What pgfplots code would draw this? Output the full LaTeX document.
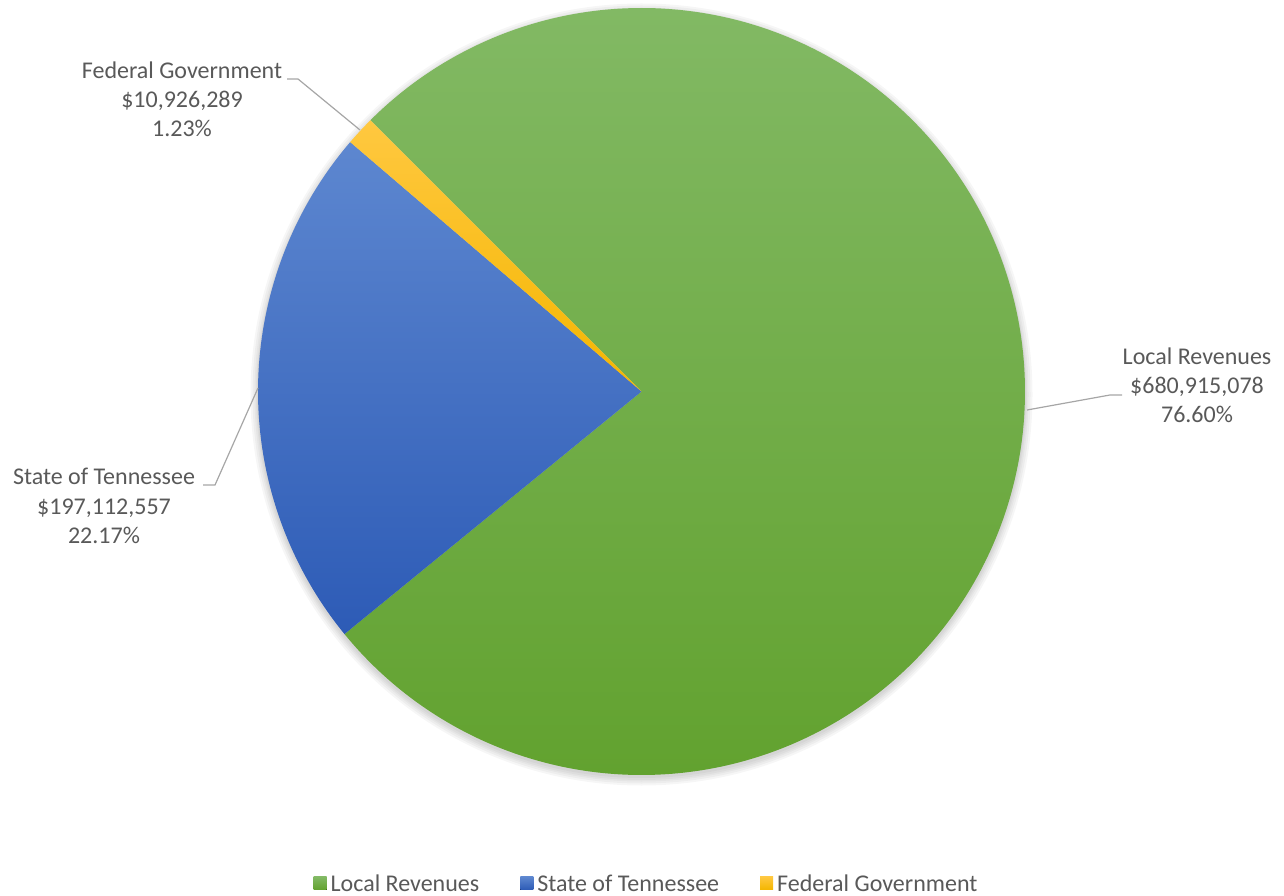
\documentclass[border=0pt]{standalone}
\usepackage{fontspec}
\setmainfont{Carlito}
\usepackage{pgfplots}
\pgfplotsset{compat=1.18}
\definecolor{txt}{HTML}{595959}
\definecolor{lead}{HTML}{A6A6A6}
\definecolor{gTop}{HTML}{82B964}
\definecolor{gBot}{HTML}{62A22F}
\definecolor{bTop}{HTML}{5D87D0}
\definecolor{bBot}{HTML}{2D5BB6}
\definecolor{yTop}{HTML}{FFC840}
\definecolor{yBot}{HTML}{F4B600}
\newcommand\lab{\fontsize{24}{29}\selectfont}
\begin{document}
\begin{tikzpicture}
\def\cx{641.5}\def\cy{503.5}\def\R{383.5}
% shares in percent (Local Revenues, State of Tennessee, Federal Government)
\def\pA{76.60}\def\pB{22.17}\def\pC{1.23}
\pgfmathsetmacro\aO{135}
\pgfmathsetmacro\aA{135-3.6*\pA}
\pgfmathsetmacro\aB{135-3.6*(\pA+\pB)}
\pgfmathsetmacro\aC{135-3.6*(\pA+\pB+\pC)}
\begin{axis}[x=1pt,y=1pt,xmin=0,xmax=1284,ymin=0,ymax=895,
  hide axis, clip=false, no markers,
  legend columns=3,
  legend image code/.code={\fill[#1] (0pt,-6pt) rectangle (13pt,7pt);},
  legend style={at={(axis cs:646,-1)}, anchor=south, draw=none, fill=none,
    font=\lab, text=txt, nodes={inner xsep=1pt, inner ysep=1pt},
    /tikz/every odd column/.append style={column sep=3pt},
    /tikz/every even column/.append style={column sep=40pt}},
]
\coordinate (BL) at (axis cs:0,0);
\coordinate (TR) at (axis cs:1284,895);
% soft shadow
\fill[black,opacity=0.035] (axis cs:\cx,\cy-3) circle[radius=391pt];
\fill[black,opacity=0.035] (axis cs:\cx,\cy-3) circle[radius=389pt];
\fill[black,opacity=0.035] (axis cs:\cx,\cy-3) circle[radius=387pt];
\fill[black,opacity=0.035] (axis cs:\cx,\cy-3) circle[radius=385.5pt];
\fill[black,opacity=0.035] (axis cs:\cx,\cy-2) circle[radius=384.5pt];

\addplot[draw=none, top color=gTop, bottom color=gBot, domain=\aA:\aO, samples=300, variable=\t]
  ({\cx+\R*cos(\t)},{\cy+\R*sin(\t)}) -- (axis cs:\cx,\cy) -- cycle;
\addlegendentry{Local Revenues}
\addplot[draw=none, top color=bTop, bottom color=bBot, domain=\aB:\aA, samples=100, variable=\t]
  ({\cx+\R*cos(\t)},{\cy+\R*sin(\t)}) -- (axis cs:\cx,\cy) -- cycle;
\addlegendentry{State of Tennessee}
\addplot[draw=none, top color=yTop, bottom color=yBot, domain=\aC:\aB, samples=20, variable=\t]
  ({\cx+\R*cos(\t)},{\cy+\R*sin(\t)}) -- (axis cs:\cx,\cy) -- cycle;
\addlegendentry{Federal Government}

% leader lines
\draw[lead, line width=1.2pt] (axis cs:287,816) -- (axis cs:298,816) -- (axis cs:360,765);
\draw[lead, line width=1.2pt] (axis cs:203,410) -- (axis cs:215,410) -- (axis cs:258,507);
\draw[lead, line width=1.2pt] (axis cs:1027,485) -- (axis cs:1110,500) -- (axis cs:1122,500);

% data labels
\node[anchor=base, text=txt, font=\lab, inner sep=0pt] at (axis cs:182,816) {Federal Government};
\node[anchor=base, text=txt, font=\lab, inner sep=0pt] at (axis cs:182,787) {\$10,926,289};
\node[anchor=base, text=txt, font=\lab, inner sep=0pt] at (axis cs:182,758) {1.23\%};
\node[anchor=base, text=txt, font=\lab, inner sep=0pt] at (axis cs:104,410) {State of Tennessee};
\node[anchor=base, text=txt, font=\lab, inner sep=0pt] at (axis cs:104,381) {\$197,112,557};
\node[anchor=base, text=txt, font=\lab, inner sep=0pt] at (axis cs:104,352) {22.17\%};
\node[anchor=base, text=txt, font=\lab, inner sep=0pt] at (axis cs:1197,530) {Local Revenues};
\node[anchor=base, text=txt, font=\lab, inner sep=0pt] at (axis cs:1197,501) {\$680,915,078};
\node[anchor=base, text=txt, font=\lab, inner sep=0pt] at (axis cs:1197,472) {76.60\%};
\end{axis}
\pgfresetboundingbox
\useasboundingbox (BL) rectangle (TR);
\end{tikzpicture}
\end{document}
